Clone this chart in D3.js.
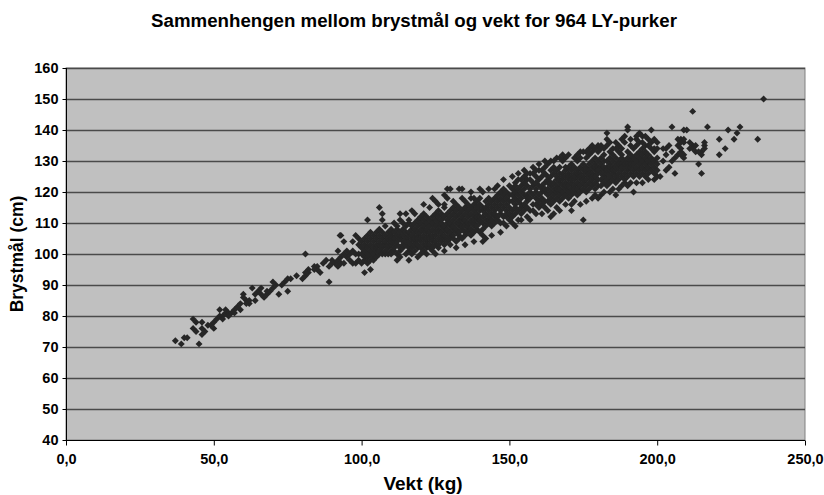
<!DOCTYPE html>
<html>
<head>
<meta charset="utf-8">
<script src="https://cdn.jsdelivr.net/npm/d3@7"></script>
<style>
  body { margin: 0; background: #fff; }
  text { font-family: "Liberation Sans", Arial, sans-serif; font-weight: bold; fill: #000; }
</style>
</head>
<body>
<script>
// tick labels
var xTicks = [0, 50, 100, 150, 200, 250];
var yTicks = [40, 50, 60, 70, 80, 90, 100, 110, 120, 130, 140, 150, 160];

// [vekt (kg), brystmål (cm)], grouped by weight
var vekt35_60 = [[37,72],[39,71],[40,73],[41,73],[45,71],[43,79],[44,78],[46,78],[43,76],[44,75],[46,76],[46,74],[48,77],[49,77],[50,78],[51,79],[52,80],[53,80],[54,81],[55,81],[57,82],[50,76],[52,82],[54,82],[55,80],[56,81],[59,82],[59,84],[60,87],[61,85],[62,84],[58,83],[47,75],[53,79],[57,81]];
var vekt60_80 = [[64,85],[63,89],[65,88],[66,89],[68,87],[68,88],[70,89],[71,90],[70,91],[72,87],[74,91],[75,92],[76,92],[75,88],[61,84],[62,85],[64,87],[67,86],[69,88],[78,93],[60,86],[66,87],[73,90]];
var vekt80_100 = [[81,100],[80,92],[81,93],[82,95],[82,94],[81,94],[84,96],[85,96],[86,94],[89,91],[88,98],[90,98],[91,97],[92,98],[93,97],[94,97],[96,98],[97,97],[98,97],[93,106],[94,104],[92,101],[98,106],[99,103],[98,100],[85,95],[84,95],[89,96],[92,96],[95,99],[96,100],[97,101],[99,98],[99,100],[97,104],[94,100],[90,97],[87,97],[95,101],[99,105],[101,94],[103,95],[93,99],[92.7,106]];
var vekt100_110 = [[100,97],[100,100],[100,102],[100,104],[101,98],[101,99],[101,101],[101,103],[101,105],[102,97],[102,99],[102,100],[102,102],[102,104],[102,106],[102,111],[103,98],[103,100],[103,101],[103,103],[103,105],[103,107],[104,99],[104,100],[104,102],[104,104],[104,106],[104,98],[105,99],[105,101],[105,102],[105,103],[105,105],[105,107],[106,100],[106,101],[106,103],[106,104],[106,106],[106,108],[106,115],[107,100],[107,102],[107,103],[107,105],[107,107],[107,111],[107,113],[108,100],[108,101],[108,103],[108,104],[108,106],[108,109],[109,102],[109,103],[109,105],[109,107],[109,100],[110,101],[110,103],[110,104],[110,106],[110,108]];
var vekt110_120 = [[110,100],[110,105],[110,107],[111,101],[111,102],[111,104],[111,105],[111,107],[111,110],[112,100],[112,103],[112,104],[112,106],[112,108],[112,109],[113,101],[113,102],[113,105],[113,106],[113,107],[113,111],[113,99],[114,102],[114,103],[114,104],[114,106],[114,108],[114,110],[115,100],[115,103],[115,105],[115,107],[115,109],[115,113],[115,104],[116,101],[116,102],[116,104],[116,106],[116,107],[116,110],[116,111],[117,102],[117,103],[117,105],[117,106],[117,108],[117,109],[117,100],[118,101],[118,104],[118,105],[118,107],[118,108],[118,110],[118,113],[118,103],[119,102],[119,103],[119,106],[119,107],[119,109],[119,111],[119,105],[120,100],[120,102],[120,104],[120,105],[120,107],[120,108],[120,110],[120,112],[112,98],[116,98],[119,99],[113,113],[117,114]];
var vekt120_130 = [[121,101],[121,103],[121,105],[121,106],[121,108],[121,109],[121,111],[121,113],[122,102],[122,104],[122,105],[122,107],[122,108],[122,110],[122,112],[122,103],[123,102],[123,103],[123,106],[123,107],[123,109],[123,111],[123,115],[123,105],[124,101],[124,104],[124,105],[124,106],[124,108],[124,110],[124,112],[124,118],[124,102],[125,103],[125,104],[125,106],[125,107],[125,109],[125,111],[125,113],[126,102],[126,103],[126,105],[126,108],[126,110],[126,112],[126,114],[126,116],[126,107],[127,104],[127,106],[127,107],[127,109],[127,110],[127,111],[127,113],[127,105],[128,103],[128,105],[128,106],[128,108],[128,109],[128,112],[128,115],[128,116],[129,104],[129,105],[129,107],[129,110],[129,111],[129,113],[129,118],[129,121],[129,108],[130,103],[130,106],[130,107],[130,109],[130,110],[130,112],[130,114],[130,121],[130,105],[122,100],[125,100],[128,101],[121,116],[125,117],[128,119]];
var vekt130_140 = [[131,105],[131,106],[131,108],[131,109],[131,111],[131,113],[131,115],[131,117],[132,104],[132,107],[132,108],[132,110],[132,112],[132,114],[132,116],[133,106],[133,107],[133,109],[133,110],[133,111],[133,113],[133,115],[133,121],[133,105],[134,105],[134,108],[134,109],[134,111],[134,112],[134,114],[134,118],[134,121],[135,106],[135,107],[135,110],[135,111],[135,113],[135,115],[135,117],[135,109],[136,107],[136,108],[136,109],[136,112],[136,114],[136,116],[136,110],[137,106],[137,108],[137,110],[137,111],[137,113],[137,115],[137,118],[138,107],[138,109],[138,110],[138,112],[138,114],[138,116],[138,118],[138,111],[139,108],[139,109],[139,111],[139,113],[139,115],[139,117],[139,112],[140,107],[140,110],[140,111],[140,112],[140,114],[140,116],[140,118],[132,102],[135,103],[138,104],[137,120],[140,121]];
var vekt140_150 = [[141,108],[141,110],[141,112],[141,114],[141,115],[141,120],[141,106],[142,105],[142,109],[142,111],[142,113],[142,115],[142,117],[143,110],[143,111],[143,112],[143,114],[143,116],[143,118],[144,109],[144,111],[144,113],[144,115],[144,117],[145,110],[145,112],[145,114],[145,116],[145,118],[145,113],[146,111],[146,112],[146,115],[146,117],[146,119],[147,110],[147,113],[147,114],[147,116],[147,118],[147,120],[148,110],[148,112],[148,115],[148,117],[148,119],[148,121],[149,112],[149,114],[149,116],[149,118],[149,120],[149,113],[150,111],[150,113],[150,115],[150,117],[150,119],[150,122],[141,104],[144,106],[147,107],[149,109],[143,121],[146,122],[148,124],[145,121]];
var vekt150_160 = [[151,112],[151,114],[151,117],[151,119],[151,121],[151,125],[152,113],[152,116],[152,118],[152,120],[152,123],[152,115],[153,111],[153,114],[153,117],[153,119],[153,121],[153,124],[154,113],[154,115],[154,118],[154,120],[154,122],[154,116],[155,114],[155,116],[155,119],[155,121],[155,123],[155,125],[156,115],[156,117],[156,119],[156,122],[156,124],[156,118],[157,114],[157,118],[157,120],[157,121],[157,124],[157,126],[158,114],[158,116],[158,119],[158,122],[158,123],[158,126],[159,116],[159,118],[159,120],[159,123],[159,125],[159,121],[160,115],[160,117],[160,119],[160,122],[160,124],[160,127],[151,110],[152,109],[154,111],[156,112],[157,111],[159,113],[153,126],[155,127],[158,128],[160,129],[156,126],[159,127],[154,124],[152,122]];
var vekt160_170 = [[161,116],[161,118],[161,120],[161,122],[161,125],[161,127],[161,121],[162,115],[162,117],[162,120],[162,121],[162,123],[162,126],[162,128],[163,117],[163,119],[163,121],[163,123],[163,124],[163,129],[163,125],[164,116],[164,118],[164,120],[164,122],[164,125],[164,127],[164,123],[165,113],[165,117],[165,119],[165,121],[165,123],[165,126],[165,128],[166,118],[166,120],[166,122],[166,124],[166,125],[166,127],[166,121],[167,117],[167,119],[167,121],[167,123],[167,126],[167,128],[167,124],[168,118],[168,120],[168,122],[168,124],[168,126],[168,130],[168,125],[169,119],[169,121],[169,123],[169,125],[169,127],[169,131],[169,122],[170,118],[170,120],[170,122],[170,124],[170,126],[170,128],[170,125],[161,113],[163,114],[164,112],[166,115],[167,114],[169,116],[162,130],[164,130],[166,131],[168,132],[170,132],[165,130],[167,131],[169,128]];
var vekt170_180 = [[171,114],[171,119],[171,121],[171,123],[171,125],[171,127],[171,129],[171,124],[172,120],[172,122],[172,124],[172,126],[172,128],[172,121],[172,125],[173,119],[173,121],[173,123],[173,125],[173,127],[173,130],[173,126],[174,120],[174,122],[174,124],[174,126],[174,128],[174,133],[174,125],[175,111],[175,121],[175,123],[175,125],[175,127],[175,129],[175,124],[176,120],[176,122],[176,124],[176,126],[176,128],[176,131],[176,127],[177,121],[177,123],[177,125],[177,127],[177,129],[177,134],[177,126],[178,122],[178,124],[178,126],[178,128],[178,130],[178,133],[178,125],[179,121],[179,123],[179,125],[179,127],[179,129],[179,131],[179,128],[180,118],[180,122],[180,124],[180,126],[180,128],[180,130],[180,133],[180,127],[171,116],[172,117],[174,116],[176,117],[178,118],[179,119],[172,131],[174,131],[176,133],[178,135],[180,135],[173,132],[175,133],[177,132],[179,134]];
var vekt180_190 = [[181,122],[181,124],[181,126],[181,128],[181,129],[181,131],[181,135],[182,123],[182,125],[182,127],[182,128],[182,130],[182,132],[182,126],[183,139],[183,122],[183,124],[183,126],[183,128],[183,130],[183,135],[183,127],[184,123],[184,125],[184,127],[184,129],[184,131],[184,133],[184,128],[185,124],[185,126],[185,128],[185,130],[185,132],[185,134],[185,127],[186,119],[186,123],[186,125],[186,127],[186,129],[186,131],[186,128],[187,124],[187,126],[187,128],[187,130],[187,133],[187,135],[187,129],[188,125],[188,127],[188,129],[188,131],[188,132],[188,134],[188,128],[189,123],[189,124],[189,126],[189,128],[189,130],[189,136],[189,129],[190,141],[190,140],[190,125],[190,127],[190,129],[190,131],[190,133],[190,128],[181,119],[182,120],[184,120],[185,121],[187,121],[188,122],[190,122],[181,134],[183,137],[184,136],[186,136],[188,137],[189,138],[186,134],[182,134]];
var vekt190_200 = [[191,126],[191,128],[191,130],[191,132],[191,137],[191,129],[192,120],[192,125],[192,127],[192,129],[192,131],[192,134],[193,126],[193,128],[193,130],[193,132],[193,135],[193,137],[194,125],[194,127],[194,129],[194,131],[194,133],[194,136],[195,126],[195,128],[195,130],[195,132],[195,134],[195,136],[196,127],[196,129],[196,131],[196,133],[196,135],[196,125],[197,126],[197,128],[197,130],[197,132],[197,135],[198,127],[198,129],[198,131],[198,134],[198,136],[198,140],[199,124],[199,126],[199,128],[199,130],[199,133],[199,134],[200,125],[200,127],[200,129],[200,131],[200,134],[191,123],[193,123],[195,123],[197,124],[191,135],[193,138],[195,138],[197,137],[199,137],[196,138],[194,139],[200,136]];
var vekt200_210 = [[201,125],[202,134],[203,134],[204,135],[203,127],[204,128],[205,130],[206,131],[206,126],[207,132],[208,133],[209,132],[208,137],[209,136],[207,135],[209,137],[207,137],[209,140],[205,141],[210,140],[208,132],[208,134],[208,136],[202,130],[203,132],[205,133]];
var vekt210_240 = [[212,146],[212,135],[213,135],[215,133],[216,135],[216,136],[214,129],[215,126],[217,141],[221,137],[224,140],[228,141],[227,139],[226,137],[234,137],[223,134],[221,132],[216,134],[213,133],[211,134],[212,134],[214,133],[215,132],[236,150],[211,136],[209,131]];

var points = [].concat(vekt35_60, vekt60_80, vekt80_100, vekt100_110, vekt110_120, vekt120_130,
	vekt130_140, vekt140_150, vekt150_160, vekt160_170, vekt170_180, vekt180_190, vekt190_200,
	vekt200_210, vekt210_240);

var width = 824, height = 495;
var plotLeft = 66, plotRight = 805, plotTop = 68, plotBottom = 440;

var svg = d3.select("body")
	.append("svg")
		.attr("width", width)
		.attr("height", height);

var x = d3.scaleLinear().domain([0, 250]).range([plotLeft, plotRight]);
var y = d3.scaleLinear().domain([40, 160]).range([plotBottom, plotTop]);

// plot area
svg.append("rect")
	.attr("x", plotLeft)
	.attr("y", plotTop)
	.attr("width", plotRight - plotLeft)
	.attr("height", plotBottom - plotTop)
	.style("fill", "#c0c0c0")
	.style("stroke", "#808080")
	.style("stroke-width", 1);

// gridlines
svg.selectAll("line.grid")
	.data(yTicks.slice(1))
	.enter()
	.append("line")
		.attr("class", "grid")
		.attr("x1", plotLeft)
		.attr("x2", plotRight)
		.attr("y1", function (d) { return Math.round(y(d)) + 0.5; })
		.attr("y2", function (d) { return Math.round(y(d)) + 0.5; })
		.style("stroke", "#4a4a4a")
		.style("stroke-width", 1.5);

// markers
svg.selectAll("path.pt")
	.data(points)
	.enter()
	.append("path")
		.attr("class", "pt")
		.attr("d", d3.symbol(d3.symbolSquare, 24))
		.attr("transform", function (d) { return "translate(" + x(d[0]) + "," + y(d[1]) + ") rotate(45)"; })
		.style("fill", "#262626");

// axes
var xAxis = d3.axisBottom(x)
	.tickValues(xTicks)
	.tickSize(5)
	.tickFormat(function (d) { return d3.format(".1f")(d).replace(".", ","); });

var yAxis = d3.axisLeft(y)
	.tickValues(yTicks)
	.tickSize(4);

var gx = svg.append("g")
	.attr("transform", "translate(0," + (plotBottom + 0.5) + ")")
	.call(xAxis);

var gy = svg.append("g")
	.attr("transform", "translate(" + (plotLeft + 0.5) + ",0)")
	.call(yAxis);

gx.select(".domain").attr("d", "M" + plotLeft + ",0H" + plotRight).style("stroke", "#000");
gy.select(".domain").attr("d", "M0," + plotTop + "V" + plotBottom).style("stroke", "#000");
gx.selectAll("text").attr("dy", "1.1em").style("font-size", "14.5px").style("font-family", "Liberation Sans").style("font-weight", "bold");
gy.selectAll("text").attr("x", -8).style("font-size", "14.5px").style("font-family", "Liberation Sans").style("font-weight", "bold");

// titles
svg.append("text")
	.attr("x", 414)
	.attr("y", 27)
	.attr("text-anchor", "middle")
	.style("font-size", "18.7px")
	.text("Sammenhengen mellom brystmål og vekt for 964 LY-purker");

svg.append("text")
	.attr("x", 423)
	.attr("y", 490)
	.attr("text-anchor", "middle")
	.style("font-size", "19px")
	.text("Vekt (kg)");

svg.append("text")
	.attr("transform", "translate(23,254) rotate(-90)")
	.attr("text-anchor", "middle")
	.style("font-size", "17.5px")
	.text("Brystmål (cm)");
</script>
</body>
</html>
